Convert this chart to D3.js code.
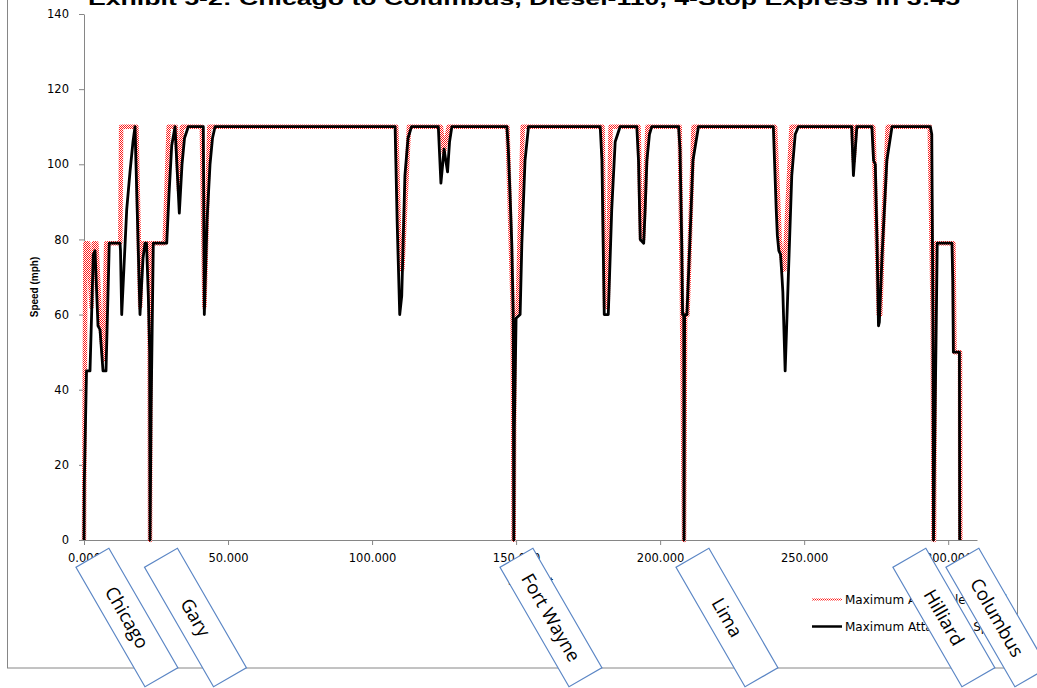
<!DOCTYPE html>
<html>
<head>
<meta charset="utf-8">
<script src="https://cdn.jsdelivr.net/npm/d3@7"></script>
<style>
    body { margin: 0; background: #ffffff; }
</style>
</head>
<body>
<div id="canvas"></div>
<script>
"use strict"

/* Chart data: [milepost, mph] pairs */
let allowableSpeed = [
    [0, 0], [0.1, 15], [0.5, 79], [1.5, 79], [2.6, 62], [3.4, 79], [4.3, 79], [5.6, 58], [6.8, 48], [7.7, 79],
    [12.6, 79], [12.9, 110], [18.2, 110], [19.5, 62], [20.1, 79], [22.7, 79], [22.92, 0], [23.2, 79],
    [28.0, 79], [29.4, 110], [31.9, 110], [33.0, 93], [34.0, 110], [40.9, 110], [41.8, 62], [43.5, 110],
    [108.4, 110], [109.7, 72], [110.5, 72], [112.8, 110],
    [123.9, 110], [124.9, 103], [126.6, 110],
    [147.0, 110], [148.8, 62], [149.15, 0], [149.5, 60], [150.5, 60], [152.3, 110],
    [180.0, 110], [180.9, 62], [181.8, 62], [182.8, 110],
    [192.5, 110], [193.4, 80], [194.1, 80], [195.6, 110],
    [206.8, 110], [207.6, 62], [208.3, 0], [208.7, 60], [209.5, 60], [211.6, 110],
    [239.9, 110], [241.5, 80], [242.7, 72], [243.2, 72], [244.3, 90], [245.6, 110],
    [266.8, 110], [267.2, 101], [267.9, 110],
    [274.0, 110], [275.4, 75], [275.9, 60], [276.4, 60], [277.5, 85], [279.0, 110],
    [293.6, 110], [294.6, 60], [294.9, 0], [295.1, 0], [295.5, 79], [301.8, 79], [302.2, 50],
    [304.1, 50], [304.2, 0]
];

let attainableSpeed = [
    [0, 0], [0.1, 15], [0.87, 45], [2.08, 45], [3.23, 76], [3.82, 77], [4.86, 57], [5.56, 56], [6.6, 45],
    [7.64, 45], [8.78, 79], [12.5, 79], [12.67, 77], [13.09, 60], [14.83, 88], [15.97, 98], [17.01, 106],
    [17.71, 110], [19.44, 60], [20.49, 75], [21.18, 79], [21.7, 79], [22.33, 65], [22.8, 50], [22.92, 0],
    [23.3, 35], [24.06, 79], [28.72, 79], [29.51, 92], [30.45, 105], [31.6, 110], [33.09, 87], [34.03, 100],
    [34.9, 107], [36.2, 110], [41.42, 110], [41.77, 60], [42.71, 85], [43.75, 100], [44.62, 107], [45.49, 110],
    [108.0, 110], [108.7, 85], [109.6, 60], [110.3, 65], [111.4, 97], [112.5, 107], [113.7, 110],
    [123.0, 110], [123.9, 95], [125.0, 104], [126.2, 98], [126.9, 106], [127.7, 110],
    [146.8, 110], [147.3, 104], [147.9, 92], [148.5, 79], [149.0, 60], [149.1, 30], [149.2, 0], [149.4, 30],
    [150.0, 59], [151.4, 60], [152.0, 79], [153.1, 101], [154.3, 110],
    [179.2, 110], [179.8, 101], [180.6, 60], [182.0, 60], [183.2, 88], [184.4, 106], [186.1, 110],
    [191.9, 110], [192.5, 101], [193.1, 80], [194.3, 79], [194.8, 88], [195.4, 101], [196.3, 108], [197.1, 110],
    [206.4, 110], [206.9, 104], [207.5, 79], [207.8, 60], [208.2, 60], [208.3, 0], [208.5, 60], [209.3, 60],
    [210.3, 79], [211.4, 101], [213.3, 110],
    [239.3, 110], [240.3, 88], [240.7, 81], [241.2, 77], [241.8, 76], [242.3, 70], [242.6, 66], [243.4, 45],
    [244.5, 70], [245.7, 97], [246.9, 108], [248.0, 110],
    [266.5, 110], [267.1, 97], [268.3, 110],
    [273.5, 110], [274.1, 101], [274.7, 100], [275.3, 79], [275.8, 57], [276.1, 58], [277.0, 75], [278.7, 101],
    [280.5, 110],
    [293.8, 110], [294.3, 108], [294.7, 60], [294.9, 0], [296.2, 79], [301.3, 79], [301.6, 69], [301.8, 50],
    [303.9, 50], [304.0, 0]
];

let xTicks = [0, 50, 100, 150, 200, 250, 300];
let yTicks = [0, 20, 40, 60, 80, 100, 120, 140];

// station call-outs, placed by milepost under the axis
let stationNames = ["Chicago", "Gary", "Fort Wayne", "Lima", "Hilliard", "Columbus"];
let stationMileposts = [14.9, 38.7, 162.1, 223.2, 298.5, 316.9];

let seriesNames = ["Maximum Allowable Speed", "Maximum Attainable Speed"];

let titleText = "Exhibit 5-2: Chicago to Columbus, Diesel-110, 4-Stop Express in 3:45";

/* Layout */
let svgWidth = 1037;
let svgHeight = 688;
let plot = { left: 84, right: 977, top: 14, bottom: 540 };
let axisGrey = "#868686";

let svg = d3.select("#canvas")
    .append("svg")
    .attr("width", svgWidth)
    .attr("height", svgHeight)
    .style("display", "block");

// checkered red paint for the allowable-speed line
let defs = svg.append("defs");
let pat = defs.append("pattern")
    .attr("id", "redDots")
    .attr("patternUnits", "userSpaceOnUse")
    .attr("width", 2)
    .attr("height", 2);
pat.append("rect").attr("width", 2).attr("height", 2).attr("fill", "#ffffff");
pat.append("rect").attr("x", 0).attr("y", 0).attr("width", 1).attr("height", 1).attr("fill", "#ff1a1a");
pat.append("rect").attr("x", 1).attr("y", 1).attr("width", 1).attr("height", 1).attr("fill", "#ff1a1a");

// outer chart border (top edge sits off the page)
svg.append("rect")
    .attr("x", 7.5)
    .attr("y", -20)
    .attr("width", 1010)
    .attr("height", 688)
    .attr("fill", "none")
    .attr("stroke", axisGrey)
    .attr("stroke-width", 1);

// title, cropped by the top of the page as in the source
svg.append("text")
    .attr("x", 88)
    .attr("y", 5)
    .attr("textLength", 872)
    .attr("lengthAdjust", "spacingAndGlyphs")
    .style("font-family", "Liberation Sans, Arial, sans-serif")
    .style("font-weight", "bold")
    .style("font-size", "19px")
    .text(titleText);

let xScale = d3.scaleLinear().domain([0, 310]).range([plot.left, plot.right]);
let yScale = d3.scaleLinear().domain([0, 140]).range([plot.bottom, plot.top]);

let xAxis = d3.axisBottom(xScale)
    .tickValues(xTicks)
    .tickFormat(d3.format(".3f"))
    .tickSizeInner(5)
    .tickSizeOuter(0)
    .tickPadding(9);

let yAxis = d3.axisLeft(yScale)
    .tickValues(yTicks)
    .tickSizeInner(5)
    .tickSizeOuter(0)
    .tickPadding(10);

let gx = svg.append("g")
    .attr("transform", "translate(0," + plot.bottom + ")")
    .call(xAxis);

let gy = svg.append("g")
    .attr("transform", "translate(" + plot.left + ",0)")
    .call(yAxis);

[gx, gy].forEach(function(g) {
    g.select(".domain").attr("stroke", axisGrey);
    g.selectAll(".tick line").attr("stroke", axisGrey);
    g.selectAll(".tick text")
        .attr("fill", "#000")
        .style("font-family", "DejaVu Sans, Verdana, sans-serif")
        .style("font-size", "11.5px");
});

// axis titles
svg.append("text")
    .attr("transform", "translate(38," + 287 + ") rotate(-90)")
    .attr("text-anchor", "middle")
    .style("font-family", "Liberation Sans, Arial, sans-serif")
    .style("font-weight", "bold")
    .style("font-size", "10px")
    .text("Speed (mph)");

svg.append("text")
    .attr("x", (plot.left + plot.right) / 2)
    .attr("y", 585)
    .attr("text-anchor", "middle")
    .style("font-family", "Liberation Sans, Arial, sans-serif")
    .style("font-weight", "bold")
    .style("font-size", "11px")
    .text("Milepost");

// lines
let line = d3.line()
    .x(function(d) { return xScale(d[0]); })
    .y(function(d) { return yScale(d[1]); });

svg.append("path")
    .datum(allowableSpeed)
    .attr("d", line)
    .attr("fill", "none")
    .attr("stroke", "url(#redDots)")
    .attr("stroke-width", 4.5)
    .attr("stroke-linejoin", "round");

svg.append("path")
    .datum(attainableSpeed)
    .attr("d", line)
    .attr("fill", "none")
    .attr("stroke", "#000")
    .attr("stroke-width", 2.8)
    .attr("stroke-linejoin", "round");

// legend
let legendX = 812;
let legendY = [599.5, 626.5];
let legendStroke = ["url(#redDots)", "#000"];
let legendWidth = [2, 2.5];

for (let i = 0; i < seriesNames.length; i++) {
    svg.append("line")
        .attr("x1", legendX)
        .attr("x2", legendX + 30)
        .attr("y1", legendY[i])
        .attr("y2", legendY[i])
        .attr("stroke", legendStroke[i])
        .attr("stroke-width", legendWidth[i]);

    svg.append("text")
        .attr("x", legendX + 33)
        .attr("y", legendY[i] + 4.5)
        .style("font-family", "DejaVu Sans, Verdana, sans-serif")
        .style("font-size", "12px")
        .text(seriesNames[i]);
}

// station call-out boxes
let boxW = 38;
let boxH = 138;
let boxY = 617.5;

for (let i = 0; i < stationNames.length; i++) {
    let cx = xScale(stationMileposts[i]);
    let g = svg.append("g")
        .attr("transform", "translate(" + cx + "," + boxY + ") rotate(-30)");

    g.append("rect")
        .attr("x", -boxW / 2)
        .attr("y", -boxH / 2)
        .attr("width", boxW)
        .attr("height", boxH)
        .attr("fill", "#ffffff")
        .attr("stroke", "#5b86c5")
        .attr("stroke-width", 1.2);

    g.append("text")
        .attr("transform", "rotate(90)")
        .attr("text-anchor", "middle")
        .attr("dy", "0.35em")
        .style("font-family", "Open Sans, sans-serif")
        .style("font-size", "18.5px")
        .text(stationNames[i]);
}
</script>
</body>
</html>
